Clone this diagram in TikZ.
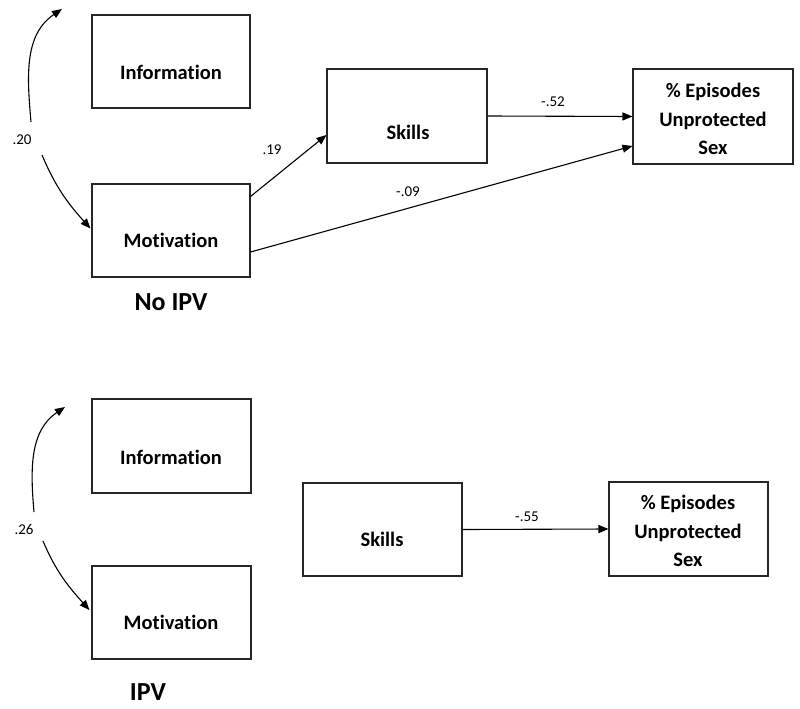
\documentclass[tikz,border=0pt]{standalone}
\usepackage{fontspec}
\setmainfont{Carlito}[Ligatures={NoCommon}]
\usetikzlibrary{arrows.meta,calc}
\tikzset{
  box/.style={draw=black!85, line width=1.1pt, inner sep=0pt},
  boxtext/.style={font=\fontsize{20.5}{28.5}\selectfont\bfseries, inner sep=0pt, align=center},
  coef/.style={font=\fontsize{15}{17}\selectfont, inner sep=0pt},
  title/.style={font=\fontsize{26}{30}\selectfont\bfseries, inner sep=0pt},
  arr/.style={-{Triangle[length=10pt,width=8pt]}, line width=1.1pt},
  darr/.style={-{Triangle[length=10pt,width=8pt]}, line width=1.1pt}
}
\begin{document}
\begin{tikzpicture}[x=1pt,y=-1pt]
\useasboundingbox (0,0) rectangle (800,709);
% ---- No IPV ----
\node[box, minimum width=158pt, minimum height=93pt] (info1) at (171,61.5) {};
\node[box, minimum width=158pt, minimum height=93pt] (mot1) at (171,230.5) {};
\node[box, minimum width=160pt, minimum height=94pt] (sk1) at (407,116) {};
\node[box, minimum width=160pt, minimum height=95pt] (out1) at (713,116.5) {};
\node[boxtext] (info1t) at (171,72) {Information};
\node[boxtext] (mot1t) at (171,240) {Motivation};
\node[boxtext] (sk1t) at (408,132) {Skills};
\node[boxtext] (out1t) at (713,119) {\% Episodes\\Unprotected\\Sex};
\node[title] (t1) at (171,302) {No IPV};
\node[coef] (c20) at (22,140) {.20};
\coordinate (tip1) at (62,9);
\draw[darr] (31,122) to[out=95,in=214] (tip1);
\draw[darr] (42,155) to[out=-67,in=132] ($(mot1.west)+(-1,-2)$);
\draw[arr] ($(mot1.north east)+(0,13)$) -- ($(sk1.west)+(0,19)$);
\node[coef] (c19) at (272,150) {.19};
\draw[arr] (sk1.east) -- (out1.west);
\node[coef] (c52) at (553,102) {-.52};
\draw[arr] ($(mot1.east)+(0,21.5)$) -- ($(out1.west)+(0,29.5)$);
\node[coef] (c09) at (408,192) {-.09};
% ---- IPV ----
\node[box, minimum width=159pt, minimum height=94pt] (info2) at (171.5,446) {};
\node[box, minimum width=159pt, minimum height=93pt] (mot2) at (171.5,612.5) {};
\node[box, minimum width=159pt, minimum height=93pt] (sk2) at (382.5,529.5) {};
\node[box, minimum width=159pt, minimum height=94pt] (out2) at (688.5,529) {};
\node[boxtext] (info2t) at (171,457) {Information};
\node[boxtext] (mot2t) at (171,622) {Motivation};
\node[boxtext] (sk2t) at (382,539) {Skills};
\node[boxtext] (out2t) at (688,531) {\% Episodes\\Unprotected\\Sex};
\node[title] (t2) at (148,692) {IPV};
\node[coef] (c26) at (24,529) {.26};
\coordinate (tip2) at (65,407);
\draw[darr] (34,512) to[out=95,in=214] (tip2);
\draw[darr] (43,541) to[out=-67,in=132] ($(mot2.west)+(-2,-2.5)$);
\draw[arr] (sk2.east) -- (out2.west);
\node[coef] (c55) at (527,517) {-.55};
\end{tikzpicture}
\end{document}
